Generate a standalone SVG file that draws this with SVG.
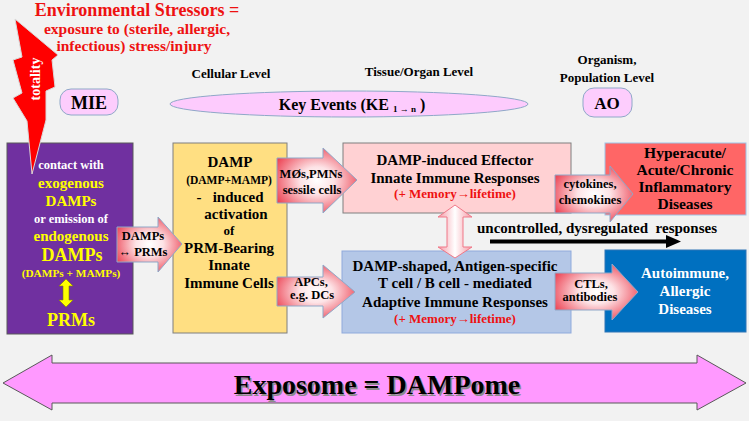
<svg xmlns="http://www.w3.org/2000/svg" width="749" height="421" viewBox="0 0 749 421">
<defs>
<radialGradient id="gArr" cx="50%" cy="50%" r="60%">
<stop offset="0" stop-color="#ffffff"/>
<stop offset="0.35" stop-color="#fde3e6"/>
<stop offset="1" stop-color="#ec3d4e"/>
</radialGradient>
<linearGradient id="gV" x1="0" y1="0" x2="1" y2="0">
<stop offset="0" stop-color="#f59aa6"/>
<stop offset="0.5" stop-color="#ffffff"/>
<stop offset="1" stop-color="#f59aa6"/>
</linearGradient>
<style>
.arr{fill:url(#gArr);stroke:#8fa8c8;stroke-width:1}
</style>
</defs>
<rect x="0" y="0" width="749" height="421" fill="#f2f2f2"/>

<g id="title" text-anchor="middle" fill="#ee1111">
<text x="137" y="16" font-family="Liberation Serif, Times New Roman, serif" font-weight="bold" font-size="18">Environmental Stressors =</text>
<text x="137" y="34" font-family="Liberation Serif, Times New Roman, serif" font-weight="bold" font-size="15.5">exposure to (sterile, allergic,</text>
<text x="134" y="51" font-family="Liberation Serif, Times New Roman, serif" font-weight="bold" font-size="15.5">infectious) stress/injury</text>
</g>

<g id="levels" text-anchor="middle" fill="#000">
<text x="231" y="78" font-family="Liberation Serif, Times New Roman, serif" font-weight="bold" font-size="13">Cellular Level</text>
<text x="419" y="76" font-family="Liberation Serif, Times New Roman, serif" font-weight="bold" font-size="13">Tissue/Organ Level</text>
<text x="607" y="64" font-family="Liberation Serif, Times New Roman, serif" font-weight="bold" font-size="13">Organism,</text>
<text x="607" y="82" font-family="Liberation Serif, Times New Roman, serif" font-weight="bold" font-size="13">Population Level</text>
</g>

<g id="mie" text-anchor="middle">
<rect x="60" y="89" width="58" height="26" rx="11" fill="#fdcdfd" stroke="#8fa8c8" stroke-width="1"/>
<text x="89" y="109" fill="#000" font-family="Liberation Serif, Times New Roman, serif" font-weight="bold" font-size="18">MIE</text>
</g>

<g id="ke" text-anchor="middle">
<ellipse cx="349" cy="104" rx="179" ry="13" fill="#fdcbfd" stroke="#8fa8c8" stroke-width="1"/>
<text x="352" y="110" fill="#000" font-family="Liberation Serif, Times New Roman, serif" font-weight="bold" font-size="16">Key Events (KE <tspan font-size="9" dy="2">1 → n</tspan><tspan dy="-2"> )</tspan></text>
</g>

<g id="ao" text-anchor="middle">
<rect x="583" y="88" width="49" height="29" rx="11" fill="#fdcdfd" stroke="#8fa8c8" stroke-width="1"/>
<text x="607" y="109" fill="#000" font-family="Liberation Serif, Times New Roman, serif" font-weight="bold" font-size="17">AO</text>
</g>

<g id="mie-box" text-anchor="middle">
<rect x="7" y="143" width="126" height="191" fill="#7030a0" stroke="#595959" stroke-width="1"/>
<text x="71" y="169" fill="#fff" font-family="Liberation Serif, Times New Roman, serif" font-weight="bold" font-size="12.5">contact with</text>
<text x="71" y="188" fill="#ffff00" font-family="Liberation Serif, Times New Roman, serif" font-weight="bold" font-size="15">exogenous</text>
<text x="71" y="206" fill="#ffff00" font-family="Liberation Serif, Times New Roman, serif" font-weight="bold" font-size="15">DAMPs</text>
<text x="71" y="223" fill="#fff" font-family="Liberation Serif, Times New Roman, serif" font-weight="bold" font-size="12.5">or emission of</text>
<text x="71" y="241" fill="#ffff00" font-family="Liberation Serif, Times New Roman, serif" font-weight="bold" font-size="15">endogenous</text>
<text x="72" y="261" fill="#ffff00" font-family="Liberation Serif, Times New Roman, serif" font-weight="bold" font-size="18">DAMPs</text>
<text x="71" y="277" fill="#ffff00" font-family="Liberation Serif, Times New Roman, serif" font-weight="bold" font-size="11.3">(DAMPs + MAMPs)</text>
<polygon points="66,279 73,286 69,286 69,300 73,300 66,307 59,300 63,300 63,286 59,286" fill="#ffff00" stroke="#7f7f00" stroke-width="0.6"/>
<text x="71" y="326" fill="#ffff00" font-family="Liberation Serif, Times New Roman, serif" font-weight="bold" font-size="18">PRMs</text>
</g>

<g id="bolt">
<polygon points="15,19 58,55 52,60 55,87 46,91 46,120 32,174 27,121 13,98 22,93 13,60 22,57" fill="#ff0000" stroke="#d9d9d9" stroke-width="1"/>
<text x="0" y="0" text-anchor="middle" transform="translate(40,79) rotate(-90)" fill="#fff" font-family="Liberation Serif, Times New Roman, serif" font-weight="bold" font-size="14">totality</text>
</g>

<g id="cell-box" text-anchor="middle" fill="#000">
<rect x="173" y="143" width="114" height="190" fill="#ffdf82" stroke="#7f7f7f" stroke-width="1"/>
<text x="230" y="167" font-family="Liberation Serif, Times New Roman, serif" font-weight="bold" font-size="15">DAMP</text>
<text x="229" y="184" font-family="Liberation Serif, Times New Roman, serif" font-weight="bold" font-size="11.5">(DAMP+MAMP)</text>
<text x="230" y="202" font-family="Liberation Serif, Times New Roman, serif" font-weight="bold" font-size="15">-&#160;&#160; induced</text>
<text x="236" y="219" font-family="Liberation Serif, Times New Roman, serif" font-weight="bold" font-size="15">activation</text>
<text x="229" y="235" font-family="Liberation Serif, Times New Roman, serif" font-weight="bold" font-size="13">of</text>
<text x="229" y="253" font-family="Liberation Serif, Times New Roman, serif" font-weight="bold" font-size="15">PRM-Bearing</text>
<text x="229" y="270" font-family="Liberation Serif, Times New Roman, serif" font-weight="bold" font-size="15">Innate</text>
<text x="229" y="288" font-family="Liberation Serif, Times New Roman, serif" font-weight="bold" font-size="15">Immune Cells</text>
</g>

<g id="innate-box" text-anchor="middle" fill="#000">
<rect x="343" y="143" width="228" height="70" fill="#ffd1d3" stroke="#7f7f7f" stroke-width="1"/>
<text x="455" y="165" font-family="Liberation Serif, Times New Roman, serif" font-weight="bold" font-size="15">DAMP-induced Effector</text>
<text x="455" y="183" font-family="Liberation Serif, Times New Roman, serif" font-weight="bold" font-size="15">Innate Immune Responses</text>
<text x="455" y="198" fill="#ee1111" font-family="Liberation Serif, Times New Roman, serif" font-weight="bold" font-size="13">(+ Memory→lifetime)</text>
</g>

<g id="adaptive-box" text-anchor="middle" fill="#000">
<rect x="342" y="251" width="229" height="82" fill="#b4c7e7" stroke="#8faadc" stroke-width="1"/>
<text x="455" y="271" font-family="Liberation Serif, Times New Roman, serif" font-weight="bold" font-size="15">DAMP-shaped, Antigen-specific</text>
<text x="455" y="288" font-family="Liberation Serif, Times New Roman, serif" font-weight="bold" font-size="15">T cell / B cell - mediated</text>
<text x="455" y="307" font-family="Liberation Serif, Times New Roman, serif" font-weight="bold" font-size="15">Adaptive Immune Responses</text>
<text x="455" y="323" fill="#ee1111" font-family="Liberation Serif, Times New Roman, serif" font-weight="bold" font-size="13">(+ Memory→lifetime)</text>
</g>

<g id="inflam-box" text-anchor="middle" fill="#000">
<rect x="605" y="143" width="141" height="72" fill="#ff6666" stroke="#9dc3e6" stroke-width="1"/>
<text x="685" y="158" font-family="Liberation Serif, Times New Roman, serif" font-weight="bold" font-size="15.5">Hyperacute/</text>
<text x="685" y="175" font-family="Liberation Serif, Times New Roman, serif" font-weight="bold" font-size="15.5">Acute/Chronic</text>
<text x="685" y="192" font-family="Liberation Serif, Times New Roman, serif" font-weight="bold" font-size="15.5">Inflammatory</text>
<text x="685" y="209" font-family="Liberation Serif, Times New Roman, serif" font-weight="bold" font-size="15.5">Diseases</text>
</g>

<g id="auto-box" text-anchor="middle" fill="#fff">
<rect x="605" y="250" width="141" height="82" fill="#0070c0" stroke="#2e75b6" stroke-width="1"/>
<text x="685" y="278" font-family="Liberation Serif, Times New Roman, serif" font-weight="bold" font-size="15">Autoimmune,</text>
<text x="685" y="296" font-family="Liberation Serif, Times New Roman, serif" font-weight="bold" font-size="15">Allergic</text>
<text x="685" y="314" font-family="Liberation Serif, Times New Roman, serif" font-weight="bold" font-size="15">Diseases</text>
</g>

<g id="connectors" text-anchor="middle" fill="#000">
<polygon class="arr" points="117,227 158,227 158,217 182,244 158,272 158,262 117,262"/>
<text x="143" y="240" font-family="Liberation Serif, Times New Roman, serif" font-weight="bold" font-size="12.5">DAMPs</text>
<text x="143" y="256" font-family="Liberation Serif, Times New Roman, serif" font-weight="bold" font-size="12.5">↔ PRMs</text>

<polygon class="arr" points="277,158 323,158 323,148 357,180 323,213 323,203 277,203"/>
<text x="311" y="178" font-family="Liberation Serif, Times New Roman, serif" font-weight="bold" font-size="12.5">MØs,PMNs</text>
<text x="312" y="194" font-family="Liberation Serif, Times New Roman, serif" font-weight="bold" font-size="12.5">sessile cells</text>

<polygon class="arr" points="277,277 323,277 323,265 355,292 323,318 323,306 277,306"/>
<text x="311" y="286" font-family="Liberation Serif, Times New Roman, serif" font-weight="bold" font-size="12.5">APCs,</text>
<text x="312" y="299" font-family="Liberation Serif, Times New Roman, serif" font-weight="bold" font-size="12.5">e.g. DCs</text>

<polygon points="455,205 472,217 463,217 463,247 472,247 455,258 438,247 447,247 447,217 438,217" fill="url(#gV)" stroke="#f07888" stroke-width="1"/>

<polygon class="arr" points="555,175 610,175 610,166 633,194 610,222 610,213 555,213"/>
<text x="590" y="188" font-family="Liberation Serif, Times New Roman, serif" font-weight="bold" font-size="12.5">cytokines,</text>
<text x="590" y="204" font-family="Liberation Serif, Times New Roman, serif" font-weight="bold" font-size="12.5">chemokines</text>

<polygon class="arr" points="555,273 612,273 612,264 638,292 612,320 612,310 555,310"/>
<text x="591" y="288" font-family="Liberation Serif, Times New Roman, serif" font-weight="bold" font-size="12.5">CTLs,</text>
<text x="590" y="301" font-family="Liberation Serif, Times New Roman, serif" font-weight="bold" font-size="12.5">antibodies</text>

<text x="597" y="233" font-family="Liberation Serif, Times New Roman, serif" font-weight="bold" font-size="15">uncontrolled, dysregulated&#160; responses</text>
<line x1="490" y1="241.5" x2="668" y2="241.5" stroke="#000" stroke-width="4"/>
<polygon points="666,235 681,241.5 666,248" fill="#000"/>
</g>

<g id="exposome" text-anchor="middle">
<polygon points="3,383 52,355 52,363 697,363 697,355 746,383 697,410 697,403 52,403 52,410" fill="#ff99ff" stroke="#595959" stroke-width="1"/>
<text x="378.5" y="395.5" fill="#8c8c8c" font-family="Liberation Serif, Times New Roman, serif" font-weight="bold" font-size="28">Exposome = DAMPome</text>
<text x="377" y="394" fill="#000" font-family="Liberation Serif, Times New Roman, serif" font-weight="bold" font-size="28">Exposome = DAMPome</text>
</g>
</svg>
